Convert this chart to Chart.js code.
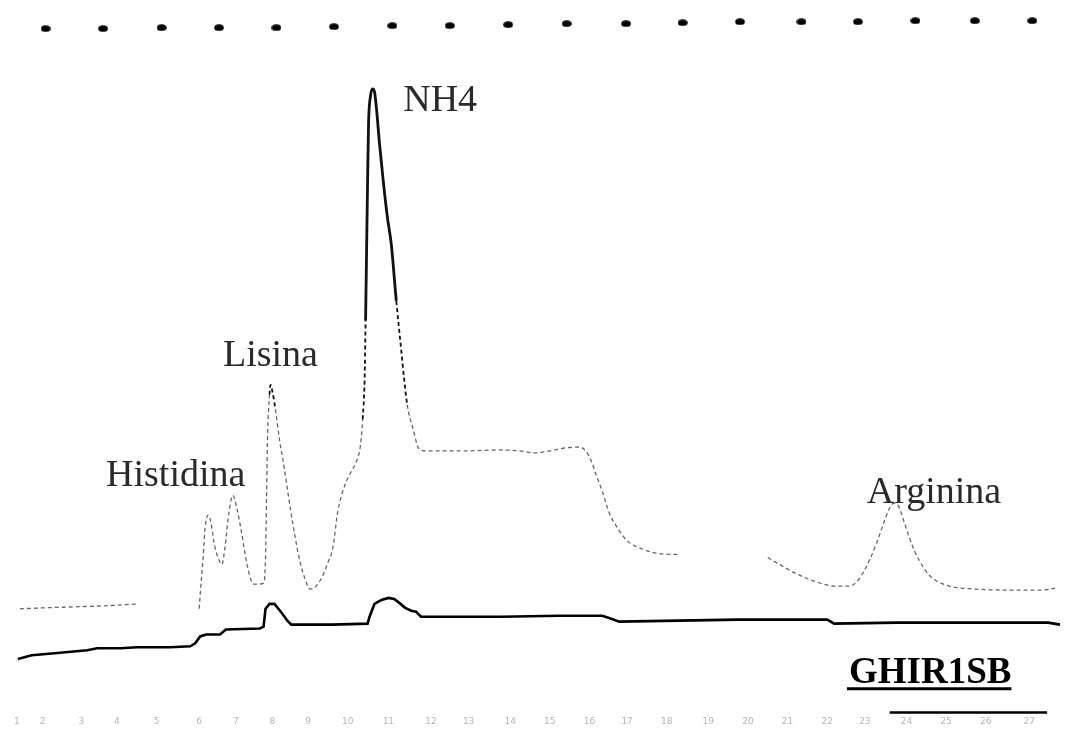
<!DOCTYPE html>
<html>
<head>
<meta charset="utf-8">
<title>GHIR1SB</title>
<script src="https://cdn.jsdelivr.net/npm/chart.js@4.4.1/dist/chart.umd.min.js"></script>
<style>
  html, body { margin: 0; padding: 0; background: #fff; }
  #wrap { width: 1066px; height: 747px; }
</style>
</head>
<body>
<div id="wrap"><canvas id="chrom" width="1066" height="747"></canvas></div>
<script>
// Werte aus dem Chromatogramm abgelesen (Zeit, Signal)
// obere Spur (Detektor, grau gepunktet) - null = Lücke im Scan
const upperTrace = [
  [1.5,13.5],[4.0,13.6],[7.0,13.7],[10.0,13.8],[13.5,14.0],[15.0,null],
  [19.6,13.5],[19.8,16.2],[20.0,18.7],[20.2,21.7],[20.5,23.0],[20.8,22.2],[21.1,20.2],[21.5,18.7],
  [21.9,18.0],[22.2,19.7],[22.6,23.2],[23.0,25.0],[23.4,23.7],[23.8,21.7],[24.3,18.7],[24.8,16.5],
  [25.1,16.0],[25.6,16.0],[26.1,16.1],[26.3,18.7],[26.4,24.7],[26.5,30.7],[26.7,35.2],[26.8,36.2],
  [27.0,35.5],[27.3,33.7],[27.7,30.7],[28.2,27.7],[28.8,23.7],[29.3,20.7],[29.8,18.2],[30.3,16.5],
  [30.8,15.5],[31.3,15.7],[32.0,16.7],[32.6,18.2],[33.1,19.7],[33.6,23.4],[34.3,26.0],[35.0,27.5],
  [35.5,28.5],[35.9,30.2],[36.1,32.7],[36.3,36.7],[36.4,42.7],[36.5,49.7],[36.6,56.7],[36.7,62.7],
  [36.9,65.5],[37.1,66.2],[37.3,65.9],[37.5,64.2],[37.8,60.7],[38.2,56.7],[38.6,53.2],[39.0,50.4],
  [39.5,44.7],[40.0,39.7],[40.3,36.7],[40.6,34.2],[41.2,31.7],[41.8,29.7],[42.5,29.5],[46.0,29.5],
  [50.0,29.6],[52.0,29.5],[53.5,29.3],[55.0,29.5],[56.5,29.8],[58.0,29.9],[59.0,28.9],[59.7,27.0],
  [60.3,25.4],[61.0,23.2],[61.7,21.9],[62.8,20.4],[64.5,19.5],[66.0,19.1],[68.0,19.0],[70.0,null],
  [77.0,18.7],[78.0,18.1],[80.0,17.0],[82.0,16.2],[83.7,15.8],[85.3,15.8],[86.2,16.5],[86.7,17.3],
  [87.3,18.5],[88.0,20.2],[88.6,21.9],[89.2,23.5],[89.7,24.2],[90.2,23.9],[90.8,22.2],[91.3,20.7],
  [91.8,19.4],[92.3,18.4],[93.3,16.9],[95.0,15.9],[98.0,15.5],[101.7,15.4],[104.7,15.4],[106.0,15.6]
];

// untere Spur (schwarz, Gradient / Leitfähigkeit)
const lowerTrace = [
  [1.3,8.4],[2.7,8.8],[5.0,9.0],[8.3,9.3],[9.3,9.5],[11.7,9.5],[13.3,9.6],[16.7,9.6],[18.7,9.7],
  [19.2,10.0],[19.7,10.7],[20.3,10.9],[21.7,10.9],[22.3,11.4],[25.7,11.5],[26.1,11.7],[26.3,13.5],
  [26.7,14.0],[27.2,14.0],[27.6,13.5],[28.0,13.0],[28.5,12.3],[28.9,11.9],[30.0,11.9],[33.0,11.9],
  [36.6,12.0],[36.8,12.7],[37.3,14.0],[38.0,14.4],[38.7,14.6],[39.3,14.5],[39.8,14.1],[40.4,13.6],
  [41.0,13.3],[41.5,13.2],[42.0,12.7],[45.0,12.7],[50.0,12.7],[56.0,12.8],[60.3,12.8],[61.2,12.5],
  [62.0,12.2],[68.0,12.3],[74.0,12.4],[83.0,12.4],[83.7,12.0],[90.0,12.1],[100.0,12.1],[105.3,12.1],
  [106.5,11.9]
];

// Punktreihe oben (Zeitmarken des Schreibers)
const markerTimes  = [4.1,9.9,15.8,21.6,27.4,33.2,39.1,44.9,50.8,56.7,62.7,68.4,74.2,80.4,86.1,91.9,97.9,103.7];
const markerLevels = [72.3,72.3,72.4,72.4,72.4,72.5,72.6,72.6,72.7,72.8,72.8,72.9,73.0,73.0,73.0,73.1,73.1,73.1];

// Peak-Beschriftungen
const peakNames = ['Histidina', 'Lisina', 'NH4', 'Arginina'];
const peakLabelX = [10.2, 22.0, 40.2, 87.0];
const peakLabelY = [25.9, 38.1, 64.0, 24.2];

// Probenname
const sampleName = 'GHIR1SB';

// Achsenbeschriftung unten (im Scan kaum lesbar)
const tickTimes = [1.2,3.8,7.7,11.3,15.3,19.6,23.3,27.0,30.6,34.6,38.7,43.0,46.8,51.0,55.0,59.0,62.8,66.8,71.0,75.0,79.0,83.0,86.8,91.0,95.0,99.0,103.4];
const tickLabels = ['1','2','3','4','5','6','7','8','9','10','11','12','13','14','15','16','17','18','19','20','21','22','23','24','25','26','27'];

const toPoints = arr => arr.map(p => ({ x: p[0], y: p[1] }));

// Marken sind im Scan flache Ellipsen -> eigenes Punktbild
const dotImg = document.createElement('canvas');
dotImg.width = 10;
dotImg.height = 7;
const dctx = dotImg.getContext('2d');
dctx.fillStyle = '#000';
dctx.beginPath();
dctx.ellipse(5, 3.5, 4.8, 3.2, 0, 0, Math.PI * 2);
dctx.fill();

// Mittelwert eines Segments
const segAvg = c => (c.p0.parsed.y + c.p1.parsed.y) / 2;

// Plugin für Texte und Linien
const annotations = {
  id: 'annotations',
  afterDatasetsDraw(chart) {
    const ctx = chart.ctx;
    const xs = chart.scales.x;
    const ys = chart.scales.y;
    ctx.save();

    // Peak-Namen
    ctx.fillStyle = '#2a2a2a';
    ctx.font = '38px "Liberation Serif", "DejaVu Serif", serif';
    ctx.textBaseline = 'alphabetic';
    ctx.textAlign = 'left';
    peakNames.forEach((name, i) => {
      ctx.fillText(name, xs.getPixelForValue(peakLabelX[i]), ys.getPixelForValue(peakLabelY[i]));
    });

    // Probenname fett + unterstrichen
    ctx.fillStyle = '#000';
    ctx.font = 'bold 37px "Liberation Serif", "DejaVu Serif", serif';
    const sx = xs.getPixelForValue(85.2);
    const sy = ys.getPixelForValue(6.0);
    ctx.fillText(sampleName, sx, sy);
    const w = ctx.measureText(sampleName).width;
    ctx.strokeStyle = '#000';
    ctx.lineWidth = 3;
    ctx.beginPath();
    ctx.moveTo(sx - 2, ys.getPixelForValue(5.4));
    ctx.lineTo(sx + w, ys.getPixelForValue(5.4));
    ctx.stroke();

    // kurzer Strich darunter
    ctx.lineWidth = 2.5;
    ctx.beginPath();
    ctx.moveTo(xs.getPixelForValue(89.3), ys.getPixelForValue(3.0));
    ctx.lineTo(xs.getPixelForValue(105.2), ys.getPixelForValue(3.0));
    ctx.stroke();

    // Zeitachse (blass)
    ctx.fillStyle = '#b5b5b5';
    ctx.font = '9px "DejaVu Sans", sans-serif';
    ctx.textAlign = 'center';
    tickTimes.forEach((t, i) => {
      ctx.fillText(tickLabels[i], xs.getPixelForValue(t), ys.getPixelForValue(1.8));
    });

    ctx.restore();
  }
};

new Chart(document.getElementById('chrom'), {
  type: 'line',
  data: {
    datasets: [
      {
        label: 'Detektor',
        data: toPoints(upperTrace),
        borderColor: '#666',
        borderWidth: 1.3,
        borderDash: [4, 3],
        pointRadius: 0,
        spanGaps: false,
        tension: 0.3,
        cubicInterpolationMode: 'monotone',
        segment: {
          // Peakspitzen im Scan dunkler/dicker
          borderColor: c => (segAvg(c) > 33 ? '#111' : undefined),
          borderWidth: c => (segAvg(c) > 46 ? 2.8 : (segAvg(c) > 33 ? 1.8 : undefined)),
          borderDash: c => (segAvg(c) > 46 ? [] : undefined)
        }
      },
      {
        label: 'Gradient',
        data: toPoints(lowerTrace),
        borderColor: '#000',
        borderWidth: 2.6,
        pointRadius: 0,
        tension: 0
      },
      {
        label: 'Marken',
        type: 'scatter',
        data: markerTimes.map((t, i) => ({ x: t, y: markerLevels[i] })),
        pointStyle: dotImg,
        pointRadius: 4,
        showLine: false
      }
    ]
  },
  options: {
    responsive: false,
    animation: false,
    devicePixelRatio: 1,
    layout: { padding: 0 },
    plugins: {
      legend: { display: false },
      tooltip: { enabled: false },
      title: { display: false }
    },
    scales: {
      x: { type: 'linear', min: 0, max: 106.6, display: false },
      y: { type: 'linear', min: 0, max: 74.7, display: false }
    }
  },
  plugins: [annotations]
});
</script>
</body>
</html>
